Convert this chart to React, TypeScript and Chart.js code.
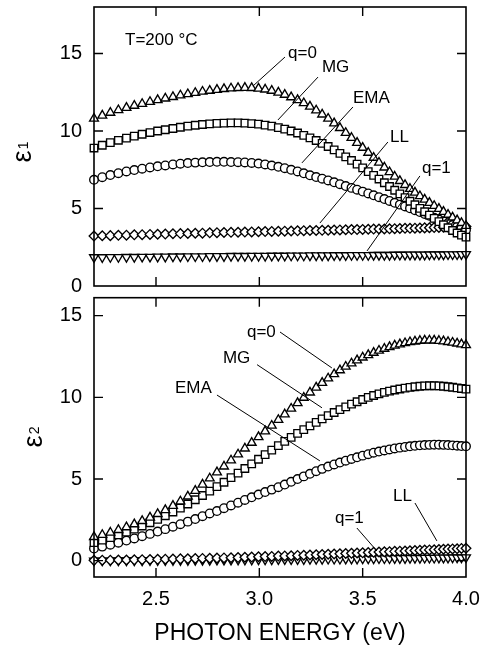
import React, { useEffect, useRef } from 'react';
import { Chart, registerables } from 'chart.js';

Chart.register(...registerables);

// ---------- data ----------
const ENERGY = [
  2.200, 2.240, 2.279, 2.318, 2.357, 2.395, 2.433, 2.471, 2.508, 2.545,
  2.582, 2.618, 2.654, 2.690, 2.725, 2.760, 2.795, 2.829, 2.863, 2.897,
  2.930, 2.963, 2.996, 3.028, 3.060, 3.092, 3.123, 3.154, 3.185, 3.215,
  3.245, 3.275, 3.304, 3.333, 3.362, 3.390, 3.418, 3.446, 3.473, 3.500,
  3.527, 3.553, 3.579, 3.605, 3.630, 3.655, 3.680, 3.705, 3.729, 3.753,
  3.777, 3.800, 3.823, 3.846, 3.869, 3.891, 3.913, 3.935, 3.957, 3.978,
  4.000,
];

// epsilon_1 (top panel)
const E1_Q0 = [
  10.80, 11.00, 11.18, 11.35, 11.50, 11.63, 11.75, 11.88, 12.00, 12.10,
  12.20, 12.30, 12.38, 12.46, 12.54, 12.60, 12.66, 12.71, 12.75, 12.78,
  12.79, 12.78, 12.74, 12.68, 12.60, 12.48, 12.34, 12.18, 12.00, 11.80,
  11.58, 11.33, 11.07, 10.80, 10.50, 10.20, 9.88, 9.56, 9.24, 8.92,
  8.60, 8.28, 7.96, 7.65, 7.35, 7.06, 6.78, 6.52, 6.27, 6.03,
  5.80, 5.58, 5.37, 5.17, 4.98, 4.79, 4.60, 4.42, 4.24, 4.07,
  3.88,
];
const E1_MG = [
  8.90, 9.08, 9.25, 9.40, 9.54, 9.67, 9.79, 9.90, 10.00, 10.08,
  10.16, 10.24, 10.31, 10.37, 10.42, 10.46, 10.49, 10.51, 10.52, 10.52,
  10.51, 10.48, 10.44, 10.38, 10.31, 10.22, 10.12, 10.00, 9.87, 9.72,
  9.56, 9.39, 9.20, 9.00, 8.78, 8.56, 8.33, 8.10, 7.86, 7.62,
  7.38, 7.14, 6.90, 6.66, 6.42, 6.18, 5.94, 5.70, 5.47, 5.24,
  5.01, 4.79, 4.57, 4.36, 4.15, 3.95, 3.76, 3.58, 3.42, 3.28,
  3.15,
];
const E1_EMA = [
  6.85, 7.02, 7.16, 7.28, 7.39, 7.48, 7.57, 7.65, 7.72, 7.78,
  7.84, 7.89, 7.93, 7.96, 7.98, 8.00, 8.01, 8.01, 8.00, 7.99,
  7.97, 7.94, 7.90, 7.84, 7.77, 7.69, 7.60, 7.50, 7.39, 7.27,
  7.14, 7.03, 6.92, 6.81, 6.69, 6.57, 6.45, 6.33, 6.21, 6.09,
  5.97, 5.85, 5.73, 5.61, 5.49, 5.37, 5.25, 5.13, 5.01, 4.89,
  4.77, 4.65, 4.53, 4.41, 4.29, 4.17, 4.05, 3.93, 3.82, 3.71,
  3.62,
];
const E1_LL = [
  3.22, 3.24, 3.25, 3.27, 3.28, 3.30, 3.31, 3.33, 3.34, 3.35,
  3.37, 3.38, 3.39, 3.40, 3.41, 3.43, 3.44, 3.45, 3.46, 3.47,
  3.48, 3.49, 3.50, 3.51, 3.52, 3.53, 3.54, 3.55, 3.56, 3.57,
  3.58, 3.58, 3.59, 3.60, 3.61, 3.62, 3.63, 3.64, 3.64, 3.65,
  3.66, 3.67, 3.68, 3.68, 3.69, 3.70, 3.71, 3.72, 3.72, 3.73,
  3.74, 3.75, 3.76, 3.77, 3.78, 3.79, 3.80, 3.81, 3.82, 3.83,
  3.84,
];
const E1_Q1 = [
  1.85, 1.85, 1.86, 1.86, 1.87, 1.87, 1.88, 1.88, 1.89, 1.89,
  1.90, 1.90, 1.91, 1.91, 1.91, 1.92, 1.92, 1.92, 1.93, 1.93,
  1.93, 1.94, 1.94, 1.94, 1.95, 1.95, 1.95, 1.96, 1.96, 1.96,
  1.97, 1.97, 1.97, 1.97, 1.98, 1.98, 1.98, 1.99, 1.99, 1.99,
  1.99, 2.00, 2.00, 2.00, 2.00, 2.01, 2.01, 2.01, 2.02, 2.02,
  2.02, 2.02, 2.03, 2.03, 2.03, 2.03, 2.04, 2.04, 2.04, 2.05,
  2.05,
];

// epsilon_2 (bottom panel)
const E2_Q0 = [
  1.45, 1.58, 1.72, 1.88, 2.05, 2.23, 2.43, 2.64, 2.86, 3.10,
  3.36, 3.63, 3.93, 4.28, 4.66, 5.04, 5.41, 5.77, 6.14, 6.51,
  6.87, 7.22, 7.57, 7.92, 8.27, 8.62, 8.96, 9.31, 9.65, 9.98,
  10.30, 10.60, 10.89, 11.16, 11.42, 11.66, 11.88, 12.08, 12.27, 12.44,
  12.59, 12.73, 12.86, 12.98, 13.08, 13.17, 13.25, 13.32, 13.38, 13.42,
  13.46, 13.48, 13.49, 13.48, 13.46, 13.43, 13.39, 13.35, 13.30, 13.25,
  13.20,
];
const E2_MG = [
  1.10, 1.26, 1.41, 1.58, 1.75, 1.93, 2.12, 2.32, 2.53, 2.75,
  2.98, 3.22, 3.47, 3.73, 3.99, 4.26, 4.53, 4.80, 5.08, 5.36,
  5.64, 5.93, 6.21, 6.49, 6.77, 7.04, 7.30, 7.55, 7.79, 8.02,
  8.25, 8.47, 8.68, 8.88, 9.07, 9.25, 9.42, 9.58, 9.73, 9.87,
  10.00, 10.11, 10.21, 10.30, 10.38, 10.45, 10.51, 10.56, 10.61, 10.65,
  10.68, 10.70, 10.71, 10.71, 10.70, 10.68, 10.65, 10.62, 10.58, 10.54,
  10.50,
];
const E2_EMA = [
  0.75, 0.86, 0.98, 1.10, 1.23, 1.36, 1.50, 1.64, 1.78, 1.93,
  2.08, 2.23, 2.39, 2.55, 2.72, 2.89, 3.04, 3.21, 3.38, 3.55,
  3.72, 3.88, 4.05, 4.20, 4.35, 4.50, 4.66, 4.83, 5.00, 5.16,
  5.32, 5.48, 5.62, 5.76, 5.89, 6.01, 6.12, 6.23, 6.33, 6.43,
  6.52, 6.61, 6.68, 6.75, 6.81, 6.87, 6.92, 6.96, 7.00, 7.03,
  7.06, 7.08, 7.09, 7.10, 7.10, 7.09, 7.08, 7.06, 7.04, 7.02,
  7.00,
];
const E2_LL = [
  0.02, 0.03, 0.03, 0.04, 0.04, 0.05, 0.06, 0.07, 0.08, 0.09,
  0.10, 0.11, 0.12, 0.13, 0.14, 0.15, 0.16, 0.17, 0.18, 0.19,
  0.21, 0.22, 0.24, 0.25, 0.26, 0.28, 0.29, 0.30, 0.32, 0.33,
  0.35, 0.36, 0.38, 0.39, 0.41, 0.42, 0.44, 0.45, 0.47, 0.48,
  0.50, 0.51, 0.53, 0.54, 0.55, 0.57, 0.58, 0.59, 0.61, 0.62,
  0.63, 0.65, 0.66, 0.67, 0.68, 0.70, 0.71, 0.72, 0.73, 0.75,
  0.76,
];
const E2_Q1 = [
  0.00, 0.00, 0.00, 0.01, 0.01, 0.01, 0.01, 0.02, 0.02, 0.02,
  0.03, 0.03, 0.03, 0.04, 0.04, 0.04, 0.05, 0.05, 0.05, 0.06,
  0.06, 0.06, 0.07, 0.07, 0.07, 0.08, 0.08, 0.08, 0.09, 0.09,
  0.10, 0.10, 0.10, 0.11, 0.11, 0.11, 0.12, 0.12, 0.12, 0.13,
  0.13, 0.13, 0.14, 0.14, 0.14, 0.15, 0.15, 0.15, 0.16, 0.16,
  0.16, 0.17, 0.17, 0.17, 0.18, 0.18, 0.18, 0.19, 0.19, 0.19,
  0.20,
];

const X_TICKS = [2.5, 3.0, 3.5, 4.0];
const X_TICK_LABELS = ['2.5', '3.0', '3.5', '4.0'];
const Y_TICKS = [0, 5, 10, 15];
const SERIES_NAMES = ['q=0', 'MG', 'EMA', 'LL', 'q=1'];

// annotation labels (data coordinates) and their leader lines
const TOP_LABELS = [
  { text: 'T=200 °C', x: 2.35, y: 15.55 },
  { text: 'q=0', x: 3.139, y: 14.7 },
  { text: 'MG', x: 3.303, y: 13.8 },
  { text: 'EMA', x: 3.453, y: 11.8 },
  { text: 'LL', x: 3.632, y: 9.29 },
  { text: 'q=1', x: 3.787, y: 7.29 },
];
const TOP_LEADERS = [
  [3.124, 14.77, 2.969, 12.9],
  [3.284, 13.48, 3.09, 10.71],
  [3.453, 11.55, 3.206, 7.94],
  [3.622, 9.29, 3.293, 4.06],
  [3.777, 7.1, 3.521, 2.26],
];
const BOTTOM_LABELS = [
  { text: 'q=0', x: 2.94, y: 13.69 },
  { text: 'MG', x: 2.824, y: 12.1 },
  { text: 'EMA', x: 2.592, y: 10.26 },
  { text: 'LL', x: 3.647, y: 3.65 },
  { text: 'q=1', x: 3.366, y: 2.31 },
];
const BOTTOM_LEADERS = [
  [3.10, 14.0, 3.351, 11.8],
  [2.989, 12.0, 3.303, 9.36],
  [2.795, 10.14, 3.293, 6.11],
  [3.753, 3.53, 3.859, 1.21],
  [3.472, 2.0, 3.569, 0.59],
];

// ---------- styles ----------
const FONT = '"Liberation Sans", Arial, Helvetica, sans-serif';
const MARKERS = [
  { pointStyle: 'triangle', radius: 5.1, rotation: 0 },
  { pointStyle: 'rect', radius: 5.3, rotation: 0 },
  { pointStyle: 'circle', radius: 4.3, rotation: 0 },
  { pointStyle: 'rectRot', radius: 4.8, rotation: 0 },
  { pointStyle: 'triangle', radius: 5.1, rotation: 180 },
];

function buildDatasets(series: number[][]) {
  return series.map((ys, k) => ({
    label: SERIES_NAMES[k],
    data: ENERGY.map((x, i) => ({ x, y: ys[i] })).filter((p) => p.y !== undefined),
    showLine: false,
    pointStyle: MARKERS[k].pointStyle as any,
    pointRadius: MARKERS[k].radius,
    pointRotation: MARKERS[k].rotation,
    pointBorderColor: '#000',
    pointBackgroundColor: '#fff',
    pointBorderWidth: 1.35,
    clip: false as any,
  }));
}

function panelPlugin(cfg: {
  labels: { text: string; x: number; y: number }[];
  leaders: number[][];
  sub: string;
  titleBaseX: number;
  titleCenterY: number;
}) {
  return {
    id: 'panelDecor',
    afterDraw(chart: any) {
      const { ctx, chartArea } = chart;
      const { left, right, top, bottom } = chartArea;
      const xs = chart.scales.x;
      const ys = chart.scales.y;
      const TICK = 9;
      ctx.save();
      ctx.strokeStyle = '#000';
      ctx.fillStyle = '#000';
      ctx.lineWidth = 1.6;
      ctx.strokeRect(left, top, right - left, bottom - top);
      ctx.lineWidth = 1.4;
      ctx.beginPath();
      X_TICKS.forEach((v) => {
        const px = xs.getPixelForValue(v);
        if (px > left + 1 && px < right - 1) {
          ctx.moveTo(px, bottom);
          ctx.lineTo(px, bottom - TICK);
          ctx.moveTo(px, top);
          ctx.lineTo(px, top + TICK);
        }
      });
      Y_TICKS.forEach((v) => {
        const py = ys.getPixelForValue(v);
        if (py > top + 1 && py < bottom - 1) {
          ctx.moveTo(left, py);
          ctx.lineTo(left + TICK, py);
          ctx.moveTo(right, py);
          ctx.lineTo(right - TICK, py);
        }
      });
      ctx.stroke();

      ctx.lineWidth = 1;
      ctx.beginPath();
      cfg.leaders.forEach(([x1, y1, x2, y2]) => {
        ctx.moveTo(xs.getPixelForValue(x1), ys.getPixelForValue(y1));
        ctx.lineTo(xs.getPixelForValue(x2), ys.getPixelForValue(y2));
      });
      ctx.stroke();

      ctx.font = `17px ${FONT}`;
      ctx.textAlign = 'left';
      ctx.textBaseline = 'alphabetic';
      cfg.labels.forEach((l) => {
        ctx.fillText(l.text, xs.getPixelForValue(l.x), ys.getPixelForValue(l.y));
      });

      // rotated y-axis title: epsilon with subscript
      ctx.translate(cfg.titleBaseX, cfg.titleCenterY);
      ctx.rotate(-Math.PI / 2);
      ctx.font = `27px ${FONT}`;
      const wE = ctx.measureText('ε').width;
      ctx.font = `14px ${FONT}`;
      const wS = ctx.measureText(cfg.sub).width;
      const start = -(wE + wS + 1) / 2;
      ctx.font = `27px ${FONT}`;
      ctx.fillText('ε', start, 0);
      ctx.font = `14px ${FONT}`;
      ctx.fillText(cfg.sub, start + wE + 1, -3);
      ctx.restore();
    },
  };
}

const yTickCfg = {
  padding: 12,
  color: '#000',
  font: { size: 20, family: FONT },
};

export default function App() {
  const topRef = useRef<HTMLCanvasElement>(null);
  const botRef = useRef<HTMLCanvasElement>(null);

  useEffect(() => {
    const top = new Chart(topRef.current as HTMLCanvasElement, {
      type: 'scatter',
      data: { datasets: buildDatasets([E1_Q0, E1_MG, E1_EMA, E1_LL, E1_Q1]) as any },
      options: {
        responsive: false,
        animation: false,
        devicePixelRatio: 1,
        layout: { padding: { left: 0, right: 18, top: 7, bottom: 363 } },
        plugins: { legend: { display: false }, tooltip: { enabled: false } },
        scales: {
          x: { type: 'linear', min: 2.2, max: 4.0, display: false },
          y: {
            type: 'linear',
            min: 0,
            max: 18,
            afterBuildTicks: (s: any) => {
              s.ticks = Y_TICKS.map((v) => ({ value: v }));
            },
            afterFit: (s: any) => {
              s.width = 94;
              s.paddingTop = 0;
              s.paddingBottom = 0;
            },
            grid: { display: false, drawTicks: false },
            border: { display: false },
            ticks: { ...yTickCfg, callback: (v: any) => String(v) },
          },
        },
      } as any,
      plugins: [
        panelPlugin({
          labels: TOP_LABELS,
          leaders: TOP_LEADERS,
          sub: '1',
          titleBaseX: 31,
          titleCenterY: 152,
        }),
      ],
    });

    const bot = new Chart(botRef.current as HTMLCanvasElement, {
      type: 'scatter',
      data: { datasets: buildDatasets([E2_Q0, E2_MG, E2_EMA, E2_LL, E2_Q1]) as any },
      options: {
        responsive: false,
        animation: false,
        devicePixelRatio: 1,
        layout: { padding: { left: 0, right: 18, top: 297.7, bottom: 0 } },
        plugins: { legend: { display: false }, tooltip: { enabled: false } },
        scales: {
          x: {
            type: 'linear',
            min: 2.2,
            max: 4.0,
            afterBuildTicks: (s: any) => {
              s.ticks = X_TICKS.map((v) => ({ value: v }));
            },
            afterFit: (s: any) => {
              s.height = 72;
              s.paddingLeft = 0;
              s.paddingRight = 0;
            },
            grid: { display: false, drawTicks: false },
            border: { display: false },
            ticks: {
              padding: 10,
              color: '#000',
              font: { size: 20, family: FONT },
              maxRotation: 0,
              autoSkip: false,
              callback: (v: any) => X_TICK_LABELS[X_TICKS.indexOf(Number(v))] ?? '',
            },
            title: {
              display: true,
              text: 'PHOTON ENERGY (eV)',
              color: '#000',
              font: { size: 23, family: FONT },
              padding: { top: 0, bottom: 2 },
            },
          },
          y: {
            type: 'linear',
            min: -1,
            max: 16.1,
            afterBuildTicks: (s: any) => {
              s.ticks = Y_TICKS.map((v) => ({ value: v }));
            },
            afterFit: (s: any) => {
              s.width = 94;
              s.paddingTop = 0;
              s.paddingBottom = 0;
            },
            grid: { display: false, drawTicks: false },
            border: { display: false },
            ticks: { ...yTickCfg, callback: (v: any) => String(v) },
          },
        },
      } as any,
      plugins: [
        panelPlugin({
          labels: BOTTOM_LABELS,
          leaders: BOTTOM_LEADERS,
          sub: '2',
          titleBaseX: 42,
          titleCenterY: 437,
        }),
      ],
    });

    return () => {
      top.destroy();
      bot.destroy();
    };
  }, []);

  return (
    <div
      style={{
        position: 'fixed',
        left: 0,
        top: 0,
        width: 484,
        height: 649,
        background: '#fff',
        overflow: 'hidden',
      }}
    >
      <canvas ref={topRef} width={484} height={649} style={{ position: 'absolute', left: 0, top: 0 }} />
      <canvas ref={botRef} width={484} height={649} style={{ position: 'absolute', left: 0, top: 0 }} />
    </div>
  );
}
